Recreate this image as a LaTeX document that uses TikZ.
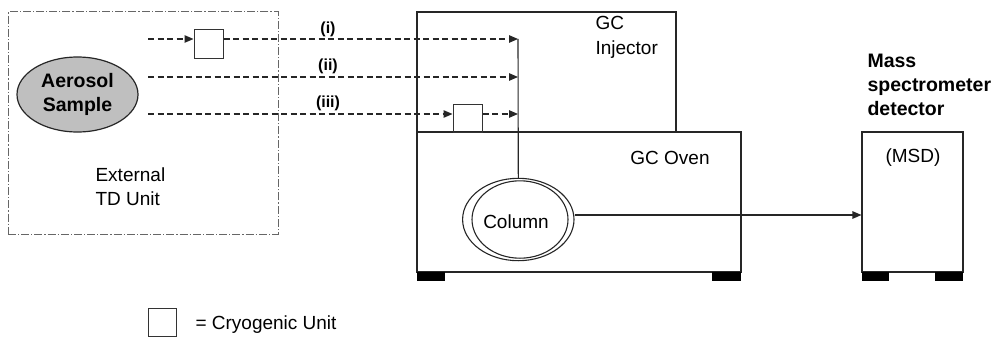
\documentclass[tikz,border=0pt]{standalone}
\usepackage{fontspec}
\setmainfont{Liberation Sans}
\usetikzlibrary{arrows.meta,shapes.geometric}
\begin{document}
\begin{tikzpicture}[x=1pt,y=-1pt,
  line width=1.1pt,
  box/.style={draw=black!85, line width=1.1pt, inner sep=0, minimum width=#1},
  foot/.style={fill=black, draw=none, inner sep=0, minimum height=9pt, minimum width=#1},
  txt/.style={font=\fontsize{19}{24.5}\selectfont, inner sep=0, align=left},
  btxt/.style={font=\fontsize{19.5}{24}\selectfont\bfseries, inner sep=0},
  rlbl/.style={font=\fontsize{16}{18}\selectfont\bfseries, inner sep=0},
  flow/.style={draw=black!85, dash pattern=on 6pt off 3.5pt, line width=1.1pt, -{Triangle[length=9pt,width=7.5pt]}},
  solidarrow/.style={draw=black!85, line width=1.1pt, -{Triangle[length=9pt,width=7.5pt]}}
]
\useasboundingbox (0,0) rectangle (1003,337);

% External TD unit
\node[box=270pt, minimum height=222pt, draw=black!60, dash pattern=on 8pt off 2pt on 1.2pt off 2pt, line width=1pt] (td) at (143,123) {};
\node[ellipse, draw=black!85, fill=black!25, line width=1.2pt, minimum width=121pt, minimum height=75pt, inner sep=0] (aero) at (77.5,94.5) {};
\node[btxt, align=center] (aerot) at (aero.center) {Aerosol\\Sample};
\node[txt, anchor=north west] (tdt) at (95,167) {External\\TD Unit};

% GC injector and oven
\node[box=259pt, minimum height=120pt] (inj) at (546.5,72) {};
\node[box=324pt, minimum height=140pt] (oven) at (579,202) {};
\node[txt, anchor=north west] (injt) at (595,16) {GC\\Injector};
\node[txt] (ovent) at (670,158) {GC Oven};
\node[foot=28pt] (of1) at (431,276.5) {};
\node[foot=29pt] (of2) at (726.5,276.5) {};

% column
\node[ellipse, draw=black!85, line width=1.1pt, minimum width=111.4pt, minimum height=82.4pt, inner sep=0] (colout) at (518.3,219.5) {};
\node[ellipse, draw=black!85, line width=1.1pt, minimum width=96pt, minimum height=77.4pt, inner sep=0] (colin) at (520,219.5) {};
\node[txt] (colt) at (516,222) {Column};

% MSD
\node[box=101pt, minimum height=140pt] (msd) at (912.5,202) {};
\node[foot=27pt] (mf1) at (875.5,276.5) {};
\node[foot=28pt] (mf2) at (949,276.5) {};
\node[txt] (msdt) at (913,158) {(MSD)};
\node[btxt, align=left, anchor=north west] (msdlab) at (867,54) {Mass\\spectrometer\\detector};

% cryogenic units
\node[box=29pt, minimum height=29pt, draw=black!80, line width=1pt] (cryo1) at (208.5,44.5) {};
\node[box=29pt, minimum height=28pt, draw=black!80, line width=1pt] (cryo3) at (467.5,118) {};

% flow lines
\coordinate (s1) at (148,39);
\coordinate (s2) at (148,77);
\coordinate (s3) at (148,114);
\coordinate (j1) at (518,39);
\coordinate (j2) at (518,77);
\coordinate (j3) at (518,114);
\draw[flow] (s1) -- (cryo1.west |- s1);
\draw[flow] (cryo1.east |- s1) -- (j1);
\draw[flow] (s2) -- (j2);
\draw[flow] (s3) -- (cryo3.west |- s3);
\draw[flow] (cryo3.east |- s3) -- (j3);
\draw[draw=black!85, line width=1.1pt] (j1) -- (colout.north);
\node[rlbl] (l1) at (328,29) {(i)};
\node[rlbl] (l2) at (328,66) {(ii)};
\node[rlbl] (l3) at (328,103) {(iii)};

% to MSD
\coordinate (m1) at (msd.west |- 0,215);
\draw[solidarrow] (colout.east |- m1) -- (m1);

% legend
\node[box=28pt, minimum height=28pt, draw=black!80, line width=1pt] (leg) at (162,322) {};
\node[txt, anchor=west] (legt) at (195,325) {= Cryogenic Unit};
\end{tikzpicture}
\end{document}
